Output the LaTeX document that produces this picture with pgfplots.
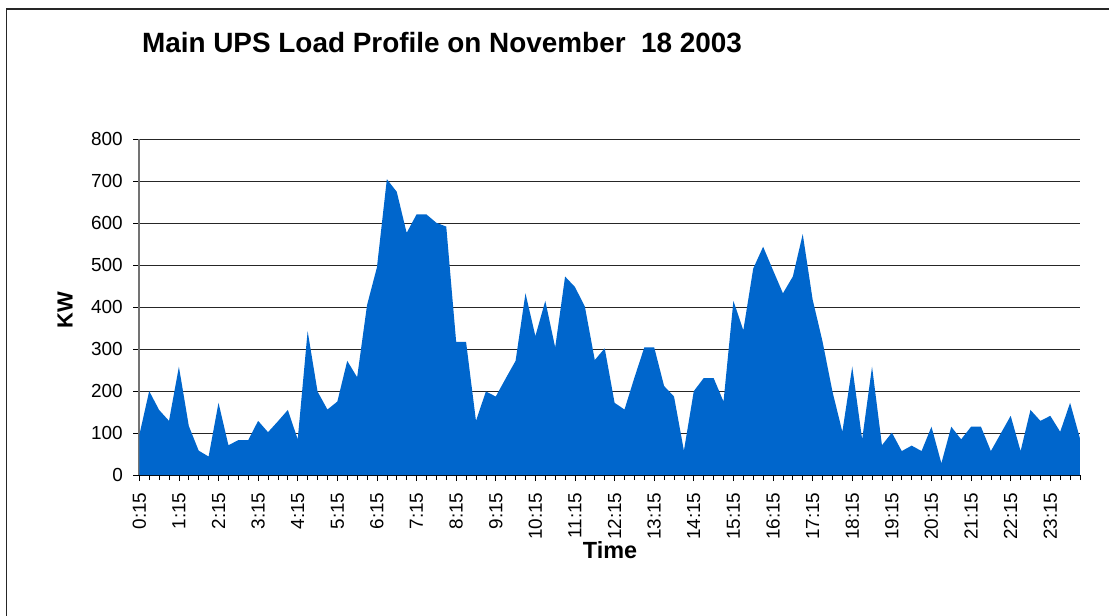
\documentclass[border=0pt]{standalone}
\usepackage{pgfplots}
\pgfplotsset{compat=1.18}
\usepackage{fontspec}
\setmainfont{Liberation Sans}
\definecolor{areablue}{RGB}{0,102,204}
\begin{document}
\begin{tikzpicture}
\useasboundingbox (-139.3bp,-141bp) rectangle (969.7bp,475bp);
\draw[line width=1.5bp, black!85] (-132.6bp,-150bp) -- (-132.6bp,466bp) -- (980bp,466bp);
\begin{axis}[
  scale only axis, width=940.7bp, height=335.7bp,
  xmin=0, xmax=95, ymin=0, ymax=800,
  axis x line=bottom, axis y line=left,
  axis line style={-},
  x axis line style={black, line width=1bp},
  y axis line style={black!55, line width=1.6bp},
  ytick={0,100,...,800},
  ymajorgrids,
  major grid style={black!85, line width=0.8bp},
  tick align=outside,
  major tick length=6bp, minor tick length=5bp,
  tick style={black, line width=0.7bp},
  xtick={0,4,...,92},
  minor xtick={0,...,95},
  xticklabels={0:15,1:15,2:15,3:15,4:15,5:15,6:15,7:15,8:15,9:15,10:15,11:15,12:15,13:15,14:15,15:15,16:15,17:15,18:15,19:15,20:15,21:15,22:15,23:15},
  xticklabel style={rotate=90, anchor=east, font=\fontsize{19}{22}\selectfont},
  yticklabel style={font=\fontsize{19}{22}\selectfont, /pgf/number format/assume math mode=true},
  xticklabel shift=8bp,
  yticklabel shift=7bp,
  clip=false,
]
\addplot[fill=areablue, draw=none] coordinates {
(0,95) (1,200) (2,155) (3,129) (4,258) (5,117) (6,58) (7,44) (8,172) (9,71)
(10,83) (11,83) (12,129) (13,102) (14,128) (15,155) (16,85) (17,343) (18,199) (19,156)
(20,175) (21,272) (22,233) (23,405) (24,495) (25,705) (26,675) (27,577) (28,621) (29,621)
(30,601) (31,592) (32,317) (33,317) (34,129) (35,199) (36,187) (37,230) (38,272) (39,433)
(40,331) (41,415) (42,304) (43,473) (44,448) (45,401) (46,274) (47,302) (48,172) (49,156)
(50,232) (51,304) (52,304) (53,212) (54,187) (55,58) (56,200) (57,231) (58,231) (59,175)
(60,415) (61,345) (62,492) (63,544) (64,488) (65,433) (66,473) (67,574) (68,418) (69,318)
(70,199) (71,103) (72,258) (73,85) (74,258) (75,71) (76,101) (77,57) (78,70) (79,57)
(80,115) (81,28) (82,115) (83,85) (84,115) (85,115) (86,57) (87,99) (88,141) (89,57)
(90,155) (91,129) (92,141) (93,103) (94,172) (95,87)
} \closedcycle;
\end{axis}
\node[anchor=base, font=\fontsize{28}{32}\selectfont\bfseries] at (302.7bp,422bp) {Main UPS Load Profile on November\ \ 18 2003};
\node[rotate=90, font=\fontsize{22}{26}\selectfont\bfseries] at (-74.3bp,165bp) {KW};
\node[anchor=base, font=\fontsize{23.5}{27}\selectfont\bfseries] at (470.7bp,-83bp) {Time};
\end{tikzpicture}
\end{document}
